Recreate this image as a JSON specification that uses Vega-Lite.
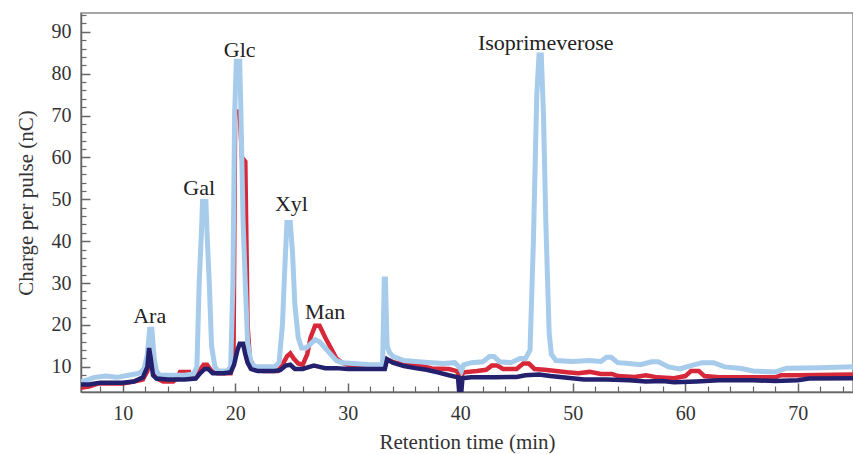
{
  "$schema": "https://vega.github.io/schema/vega-lite/v6.json",
  "width": 772,
  "height": 379,
  "autosize": "none",
  "padding": {"left": 81, "top": 13, "right": 0, "bottom": 62},
  "background": "white",
  "config": {
    "view": {"stroke": "#8a8a8a", "strokeWidth": 1.5},
    "font": "Liberation Serif",
    "axis": {"grid": false, "domainColor": "#666", "domainWidth": 1.5, "tickColor": "#666", "labelFont": "Liberation Serif", "titleFont": "Liberation Serif", "labelFontSize": 20, "titleFontSize": 21, "labelColor": "#333", "titleColor": "#333", "titleFontWeight": "normal"}
  },
  "datasets": {
    "lightblue": [
      {"t": 6.3, "v": 6.5}, {"t": 7.0, "v": 7.0}, {"t": 7.5, "v": 7.5}, {"t": 8.5, "v": 7.8}, {"t": 9.5, "v": 7.5}, {"t": 10.5, "v": 8.0}, {"t": 11.5, "v": 8.5}, {"t": 11.9, "v": 9.5}, {"t": 12.2, "v": 13}, {"t": 12.4, "v": 19}, {"t": 12.6, "v": 19}, {"t": 12.8, "v": 12}, {"t": 13.0, "v": 9}, {"t": 13.3, "v": 8}, {"t": 14.5, "v": 8}, {"t": 15.5, "v": 8}, {"t": 16.3, "v": 8.3}, {"t": 16.6, "v": 10}, {"t": 16.8, "v": 30}, {"t": 17.0, "v": 42}, {"t": 17.1, "v": 49.5}, {"t": 17.4, "v": 49.5}, {"t": 17.5, "v": 42}, {"t": 17.7, "v": 30}, {"t": 17.9, "v": 15}, {"t": 18.2, "v": 10}, {"t": 18.5, "v": 9}, {"t": 19.3, "v": 9}, {"t": 19.6, "v": 10}, {"t": 19.8, "v": 30}, {"t": 19.95, "v": 70}, {"t": 20.1, "v": 83}, {"t": 20.4, "v": 83}, {"t": 20.5, "v": 72}, {"t": 20.7, "v": 45}, {"t": 20.9, "v": 30}, {"t": 21.1, "v": 16}, {"t": 21.4, "v": 11}, {"t": 21.8, "v": 10}, {"t": 23.5, "v": 10}, {"t": 23.9, "v": 11}, {"t": 24.2, "v": 20}, {"t": 24.4, "v": 33}, {"t": 24.6, "v": 44.5}, {"t": 24.9, "v": 44.5}, {"t": 25.1, "v": 37}, {"t": 25.3, "v": 25}, {"t": 25.6, "v": 17}, {"t": 25.9, "v": 14.5}, {"t": 26.3, "v": 14.5}, {"t": 26.7, "v": 15.5}, {"t": 27.1, "v": 16.5}, {"t": 27.5, "v": 16}, {"t": 28.0, "v": 14.5}, {"t": 28.5, "v": 13}, {"t": 29.0, "v": 11.5}, {"t": 29.5, "v": 11}, {"t": 30.5, "v": 10.8}, {"t": 32.0, "v": 10.5}, {"t": 33.1, "v": 10.5}, {"t": 33.25, "v": 31}, {"t": 33.35, "v": 31}, {"t": 33.5, "v": 15}, {"t": 33.7, "v": 13.5}, {"t": 34.0, "v": 12.5}, {"t": 35.0, "v": 11.5}, {"t": 36.0, "v": 11.3}, {"t": 37.5, "v": 11.0}, {"t": 38.5, "v": 10.8}, {"t": 39.5, "v": 11}, {"t": 39.9, "v": 10}, {"t": 40.1, "v": 9}, {"t": 40.3, "v": 10.5}, {"t": 41.0, "v": 11}, {"t": 42.0, "v": 11.2}, {"t": 42.6, "v": 12.5}, {"t": 43.0, "v": 12.5}, {"t": 43.5, "v": 11.2}, {"t": 44.5, "v": 11.0}, {"t": 45.3, "v": 12}, {"t": 45.8, "v": 12}, {"t": 46.2, "v": 14}, {"t": 46.5, "v": 40}, {"t": 46.8, "v": 75}, {"t": 47.0, "v": 84.5}, {"t": 47.2, "v": 84.5}, {"t": 47.4, "v": 70}, {"t": 47.6, "v": 45}, {"t": 47.9, "v": 18}, {"t": 48.1, "v": 13}, {"t": 48.5, "v": 11.5}, {"t": 50.0, "v": 11.3}, {"t": 51.5, "v": 11.5}, {"t": 52.5, "v": 11.3}, {"t": 53.0, "v": 12.3}, {"t": 53.4, "v": 12.3}, {"t": 54.0, "v": 11}, {"t": 55.0, "v": 10.8}, {"t": 56.0, "v": 10.5}, {"t": 57.0, "v": 11.2}, {"t": 57.6, "v": 11.2}, {"t": 58.5, "v": 10}, {"t": 59.5, "v": 9.5}, {"t": 60.5, "v": 10.3}, {"t": 61.5, "v": 11}, {"t": 62.5, "v": 11}, {"t": 63.5, "v": 10}, {"t": 65.0, "v": 9.6}, {"t": 66.0, "v": 9}, {"t": 68.0, "v": 8.8}, {"t": 69.0, "v": 9.7}, {"t": 72.0, "v": 9.8}, {"t": 74.9, "v": 10}
    ],
    "red": [
      {"t": 6.3, "v": 5}, {"t": 7.0, "v": 5.3}, {"t": 7.8, "v": 6.0}, {"t": 9.0, "v": 6.0}, {"t": 10.0, "v": 6.0}, {"t": 11.0, "v": 6.5}, {"t": 11.8, "v": 7.0}, {"t": 12.2, "v": 9}, {"t": 12.4, "v": 12}, {"t": 12.6, "v": 11}, {"t": 12.8, "v": 8}, {"t": 13.2, "v": 7}, {"t": 13.6, "v": 6.5}, {"t": 14.5, "v": 6.5}, {"t": 14.9, "v": 7.5}, {"t": 15.1, "v": 8.8}, {"t": 15.9, "v": 8.8}, {"t": 16.0, "v": 7.5}, {"t": 16.5, "v": 7.5}, {"t": 16.8, "v": 9}, {"t": 17.2, "v": 10.5}, {"t": 17.5, "v": 10.5}, {"t": 17.9, "v": 9}, {"t": 18.4, "v": 8.5}, {"t": 19.6, "v": 8.5}, {"t": 19.85, "v": 12}, {"t": 20.0, "v": 71}, {"t": 20.4, "v": 71}, {"t": 20.6, "v": 60}, {"t": 20.9, "v": 59}, {"t": 21.0, "v": 40}, {"t": 21.1, "v": 20}, {"t": 21.3, "v": 12}, {"t": 21.7, "v": 9.5}, {"t": 22.5, "v": 9}, {"t": 23.8, "v": 9}, {"t": 24.2, "v": 10.5}, {"t": 24.6, "v": 12.5}, {"t": 24.9, "v": 13.2}, {"t": 25.2, "v": 12}, {"t": 25.6, "v": 10.8}, {"t": 26.0, "v": 10.5}, {"t": 26.4, "v": 13}, {"t": 26.7, "v": 17}, {"t": 27.1, "v": 19.8}, {"t": 27.5, "v": 19.8}, {"t": 28.0, "v": 17}, {"t": 28.5, "v": 14.5}, {"t": 29.0, "v": 12}, {"t": 29.5, "v": 11}, {"t": 30.5, "v": 10}, {"t": 33.3, "v": 10}, {"t": 33.5, "v": 11.8}, {"t": 34.0, "v": 11.2}, {"t": 35.0, "v": 10.5}, {"t": 36.5, "v": 10.2}, {"t": 37.5, "v": 9.6}, {"t": 39.0, "v": 9.5}, {"t": 39.7, "v": 9}, {"t": 40.0, "v": 7.5}, {"t": 40.3, "v": 8.7}, {"t": 41.5, "v": 9}, {"t": 42.3, "v": 9.3}, {"t": 42.8, "v": 10.3}, {"t": 43.3, "v": 10.3}, {"t": 43.8, "v": 9.5}, {"t": 45.0, "v": 9.5}, {"t": 45.6, "v": 10.8}, {"t": 46.1, "v": 10.8}, {"t": 46.6, "v": 9.5}, {"t": 47.5, "v": 9.3}, {"t": 48.5, "v": 9}, {"t": 49.5, "v": 8.7}, {"t": 50.5, "v": 8.5}, {"t": 51.5, "v": 8.8}, {"t": 52.5, "v": 8.3}, {"t": 53.5, "v": 8.3}, {"t": 54.0, "v": 7.8}, {"t": 55.5, "v": 7.6}, {"t": 56.5, "v": 8}, {"t": 57.5, "v": 7.5}, {"t": 59.0, "v": 7.3}, {"t": 60.0, "v": 7.8}, {"t": 60.5, "v": 9}, {"t": 61.2, "v": 9}, {"t": 61.7, "v": 7.8}, {"t": 63.0, "v": 7.5}, {"t": 66.0, "v": 7.5}, {"t": 68.0, "v": 7.5}, {"t": 68.5, "v": 8}, {"t": 70.0, "v": 8}, {"t": 74.9, "v": 8.2}
    ],
    "navy": [
      {"t": 6.3, "v": 5.8}, {"t": 7.0, "v": 5.8}, {"t": 8.0, "v": 6.2}, {"t": 10.0, "v": 6.2}, {"t": 11.0, "v": 6.5}, {"t": 11.8, "v": 7.5}, {"t": 12.2, "v": 10}, {"t": 12.35, "v": 14.5}, {"t": 12.5, "v": 12}, {"t": 12.7, "v": 8}, {"t": 13.0, "v": 7.2}, {"t": 14.0, "v": 7.0}, {"t": 15.5, "v": 7.0}, {"t": 16.5, "v": 7.2}, {"t": 16.9, "v": 8.5}, {"t": 17.3, "v": 9.5}, {"t": 17.6, "v": 9.5}, {"t": 18.0, "v": 8.5}, {"t": 19.0, "v": 8.5}, {"t": 19.6, "v": 8.7}, {"t": 19.9, "v": 10.5}, {"t": 20.2, "v": 14}, {"t": 20.4, "v": 15.5}, {"t": 20.7, "v": 15.5}, {"t": 20.9, "v": 13}, {"t": 21.1, "v": 11}, {"t": 21.4, "v": 9.5}, {"t": 22.0, "v": 9}, {"t": 23.5, "v": 9}, {"t": 24.0, "v": 9.2}, {"t": 24.5, "v": 10.3}, {"t": 24.9, "v": 10.5}, {"t": 25.3, "v": 9.5}, {"t": 26.0, "v": 9.5}, {"t": 26.6, "v": 10}, {"t": 27.0, "v": 10.3}, {"t": 27.5, "v": 10}, {"t": 28.0, "v": 9.7}, {"t": 29.0, "v": 9.7}, {"t": 30.0, "v": 9.5}, {"t": 33.3, "v": 9.5}, {"t": 33.5, "v": 11.8}, {"t": 34.0, "v": 11}, {"t": 35.0, "v": 10.2}, {"t": 36.0, "v": 9.7}, {"t": 37.0, "v": 9.3}, {"t": 38.0, "v": 8.7}, {"t": 39.0, "v": 8.0}, {"t": 39.8, "v": 7.5}, {"t": 39.9, "v": 4.2}, {"t": 40.1, "v": 4.2}, {"t": 40.2, "v": 7.3}, {"t": 41.0, "v": 7.5}, {"t": 43.0, "v": 7.5}, {"t": 45.0, "v": 7.6}, {"t": 45.8, "v": 8}, {"t": 47.0, "v": 8.2}, {"t": 48.0, "v": 7.8}, {"t": 49.5, "v": 7.4}, {"t": 51.0, "v": 7.0}, {"t": 53.0, "v": 7.0}, {"t": 55.0, "v": 6.8}, {"t": 56.5, "v": 6.5}, {"t": 58.0, "v": 6.6}, {"t": 59.0, "v": 6.3}, {"t": 61.0, "v": 6.5}, {"t": 63.0, "v": 6.8}, {"t": 66.0, "v": 6.8}, {"t": 68.0, "v": 6.6}, {"t": 70.0, "v": 6.8}, {"t": 71.0, "v": 7.2}, {"t": 74.9, "v": 7.3}
    ],
    "labels": [
      {"t": 12.4, "v": 22.2, "label": "Ara"},
      {"t": 16.8, "v": 52.7, "label": "Gal"},
      {"t": 20.4, "v": 85.7, "label": "Glc"},
      {"t": 25.0, "v": 49.0, "label": "Xyl"},
      {"t": 28.0, "v": 23.0, "label": "Man"},
      {"t": 47.6, "v": 87.3, "label": "Isoprimeverose"}
    ]
  },
  "resolve": {"axis": {"x": "independent", "y": "independent"}},
  "layer": [
    {
      "data": {"name": "red"},
      "mark": {"type": "line", "color": "#d7283a", "strokeWidth": 4.5, "clip": true},
      "encoding": {
        "x": {"field": "t", "type": "quantitative", "scale": {"domain": [6.3, 74.9], "nice": false, "zero": false},
              "axis": {"orient": "bottom", "values": [10, 20, 30, 40, 50, 60, 70], "tickSize": -9, "tickWidth": 1.5, "labelPadding": 20, "title": "Retention time (min)", "titlePadding": 8}},
        "y": {"field": "v", "type": "quantitative", "scale": {"domain": [4, 94.5], "nice": false, "zero": false},
              "axis": {"orient": "left", "values": [10, 20, 30, 40, 50, 60, 70, 80, 90], "tickSize": -9, "tickWidth": 1.5, "labelPadding": 19, "title": "Charge per pulse (nC)", "titlePadding": 15}}
      }
    },
    {
      "data": {"name": "lightblue"},
      "mark": {"type": "line", "color": "#a7cbea", "strokeWidth": 5, "clip": true},
      "encoding": {
        "x": {"field": "t", "type": "quantitative",
              "axis": {"orient": "bottom", "values": [8, 12, 14, 16, 18, 22, 24, 26, 28, 32, 34, 36, 38, 42, 44, 46, 48, 52, 54, 56, 58, 62, 64, 66, 68, 72, 74], "tickSize": -6, "tickWidth": 1.2, "labels": false, "domain": false, "title": null}},
        "y": {"field": "v", "type": "quantitative",
              "axis": {"orient": "left", "values": [6, 8, 12, 14, 16, 18, 22, 24, 26, 28, 32, 34, 36, 38, 42, 44, 46, 48, 52, 54, 56, 58, 62, 64, 66, 68, 72, 74, 76, 78, 82, 84, 86, 88, 92, 94], "tickSize": -5, "tickWidth": 1.2, "labels": false, "domain": false, "title": null}}
      }
    },
    {
      "data": {"name": "navy"},
      "mark": {"type": "line", "color": "#23206e", "strokeWidth": 4.5, "clip": true},
      "encoding": {
        "x": {"field": "t", "type": "quantitative", "axis": null},
        "y": {"field": "v", "type": "quantitative", "axis": null}
      }
    },
    {
      "data": {"name": "labels"},
      "mark": {"type": "text", "font": "Liberation Serif", "fontSize": 22, "color": "#222", "align": "center", "baseline": "middle"},
      "encoding": {
        "x": {"field": "t", "type": "quantitative", "axis": null},
        "y": {"field": "v", "type": "quantitative", "axis": null},
        "text": {"field": "label"}
      }
    }
  ]
}
